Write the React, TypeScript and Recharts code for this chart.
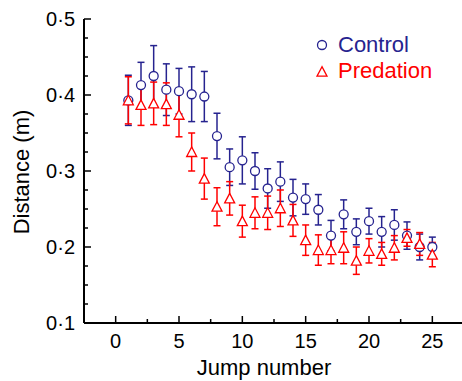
import React from 'react';
import { ComposedChart, Scatter, XAxis, YAxis, ErrorBar, Customized } from 'recharts';

const jumps = [1, 2, 3, 4, 5, 6, 7, 8, 9, 10, 11, 12, 13, 14, 15, 16, 17, 18, 19, 20, 21, 22, 23, 24, 25];
const controlMean = [0.393, 0.413, 0.425, 0.407, 0.405, 0.401, 0.398, 0.346, 0.305, 0.314, 0.300, 0.277, 0.286, 0.265, 0.263, 0.249, 0.215, 0.243, 0.220, 0.234, 0.220, 0.229, 0.215, 0.200, 0.200];
const controlErr = [0.033, 0.030, 0.040, 0.034, 0.030, 0.036, 0.033, 0.030, 0.024, 0.031, 0.024, 0.026, 0.026, 0.024, 0.020, 0.020, 0.020, 0.019, 0.017, 0.017, 0.020, 0.020, 0.018, 0.017, 0.013];
const predMean = [0.393, 0.387, 0.389, 0.388, 0.374, 0.325, 0.290, 0.253, 0.264, 0.234, 0.245, 0.245, 0.251, 0.235, 0.209, 0.196, 0.196, 0.199, 0.182, 0.195, 0.191, 0.199, 0.212, 0.204, 0.190];
const predErr = [0.031, 0.027, 0.028, 0.028, 0.029, 0.025, 0.027, 0.025, 0.022, 0.021, 0.021, 0.022, 0.024, 0.021, 0.020, 0.020, 0.018, 0.021, 0.018, 0.016, 0.015, 0.016, 0.011, 0.015, 0.016];

const xTicks = [-2.5, 0, 2.5, 5, 7.5, 10, 12.5, 15, 17.5, 20, 22.5, 25, 27.5];
const yTicks = [0.1, 0.125, 0.15, 0.175, 0.2, 0.225, 0.25, 0.275, 0.3, 0.325, 0.35, 0.375, 0.4, 0.425, 0.45, 0.475, 0.5];

const seriesNames = ['Control', 'Predation'];
const BLUE = '#26238f';
const RED = '#ff0000';
const FONT = '"Liberation Sans", Arial, Helvetica, sans-serif';

const controlData = jumps.map((x, i) => ({ x, y: controlMean[i], err: controlErr[i] }));
const predData = jumps.map((x, i) => ({ x, y: predMean[i], err: predErr[i] }));

const fmtY = (v: number) => v.toFixed(1).replace('.', '\u00B7');

const YTick = (props: any) => {
  const { x, y, payload } = props;
  const v = payload.value;
  const major = Math.abs(v * 10 - Math.round(v * 10)) < 1e-6;
  return (
    <g>
      <line x1={x} x2={x + (major ? 7 : 4)} y1={y} y2={y} stroke="#000" strokeWidth={1.5} />
      {major && (
        <text x={x - 9} y={y + 6.7} textAnchor="end" fontSize={20} fontFamily={FONT} fill="#000">
          {fmtY(v)}
        </text>
      )}
    </g>
  );
};

const XTick = (props: any) => {
  const { x, y, payload } = props;
  const v = payload.value;
  const major = Math.abs(v / 5 - Math.round(v / 5)) < 1e-6;
  const show = v >= 0 && v <= 25;
  return (
    <g>
      <line x1={x} x2={x} y1={y} y2={y - (major ? 7 : 4)} stroke="#000" strokeWidth={1.5} />
      {major && show && (
        <text x={x} y={y + 25} textAnchor="middle" fontSize={20} fontFamily={FONT} fill="#000">
          {String(v)}
        </text>
      )}
    </g>
  );
};

const CircleShape = (props: any) => {
  const { cx, cy } = props;
  return <circle cx={cx} cy={cy} r={4.5} fill="#fff" stroke={BLUE} strokeWidth={1.3} />;
};

const TriangleShape = (props: any) => {
  const { cx, cy } = props;
  const pts = `${cx},${cy - 5} ${cx - 5},${cy + 4.5} ${cx + 5},${cy + 4.5}`;
  return <polygon points={pts} fill="#fff" stroke={RED} strokeWidth={1.3} />;
};

const Overlay = () => (
  <g>
    <circle cx={322} cy={45} r={4.5} fill="none" stroke={BLUE} strokeWidth={1.3} />
    <text x={338} y={51.7} fontSize={22} fontFamily={FONT} fill={BLUE}>{seriesNames[0]}</text>
    <polygon points={`322,${71.7 - 5} 317,${71.7 + 4.5} 327,${71.7 + 4.5}`} fill="none" stroke={RED} strokeWidth={1.3} />
    <text x={338} y={78.3} fontSize={22} fontFamily={FONT} fill={RED}>{seriesNames[1]}</text>
    <text x={264} y={375} textAnchor="middle" fontSize={22} fontFamily={FONT} fill="#000">Jump number</text>
    <text x={29} y={172} textAnchor="middle" fontSize={22} fontFamily={FONT} fill="#000" transform="rotate(-90, 29, 172)">Distance (m)</text>
  </g>
);

export default function App() {
  return (
    <div style={{ position: 'absolute', left: 0, top: 0, width: 462, height: 381, overflow: 'hidden', background: '#fff' }}>
      <ComposedChart width={464} height={381} margin={{ top: 19, right: 0, bottom: 0, left: 0 }}>
        <XAxis
          type="number"
          dataKey="x"
          domain={[-2.5, 27.5]}
          ticks={xTicks}
          interval={0}
          allowDataOverflow
          height={58}
          tickSize={0}
          tickMargin={0}
          tickLine={false}
          tick={<XTick />}
          axisLine={{ stroke: '#000', strokeWidth: 2 }}
        />
        <YAxis
          type="number"
          dataKey="y"
          domain={[0.1, 0.5]}
          ticks={yTicks}
          interval={0}
          allowDataOverflow
          width={84}
          tickSize={0}
          tickMargin={0}
          tickLine={false}
          tick={<YTick />}
          axisLine={{ stroke: '#000', strokeWidth: 2 }}
        />
        <Scatter name={seriesNames[0]} data={controlData} shape={<CircleShape />} isAnimationActive={false}>
          <ErrorBar dataKey="err" direction="y" width={3.5} stroke={BLUE} strokeWidth={1.5} isAnimationActive={false} />
        </Scatter>
        <Scatter name={seriesNames[1]} data={predData} shape={<TriangleShape />} isAnimationActive={false}>
          <ErrorBar dataKey="err" direction="y" width={3.5} stroke={RED} strokeWidth={1.5} isAnimationActive={false} />
        </Scatter>
        <Customized component={<Overlay />} />
      </ComposedChart>
    </div>
  );
}
